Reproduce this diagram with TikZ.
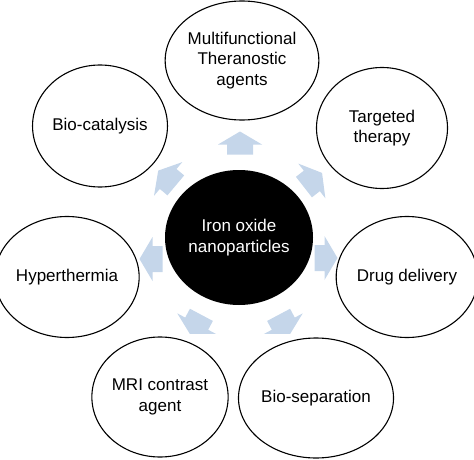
\documentclass[tikz,border=0pt]{standalone}
\usepackage{fontspec}
\setmainfont{Liberation Sans}
\usetikzlibrary{shapes.geometric}
\definecolor{arrowblue}{RGB}{197,214,234}
\tikzset{
  txt/.style={font=\fontsize{17}{20.5}\selectfont, align=center, inner sep=0pt},
  bubble/.style={txt, ellipse, draw=black, line width=1.1pt, fill=white},
  core/.style={txt, ellipse, fill=black, text=white},
  blockarrow/.style={fill=arrowblue}
}
\newcommand\blockarr[2]{%
  \fill[blockarrow, shift={(#1)}, rotate=#2]
    (-11.5,-13) -- (-1.5,-13) -- (-1.5,-22) -- (11.5,0) -- (-1.5,22) -- (-1.5,13) -- (-11.5,13) -- cycle;}
\begin{document}
\begin{tikzpicture}[x=1pt,y=1pt]
\useasboundingbox (0,0) rectangle (474,459);
\node[core, minimum width=148pt, minimum height=135pt] (c) at (239,221.5) {Iron oxide\\nanoparticles};
\node[bubble, minimum width=130pt, minimum height=119pt] (m) at (242,398.5) {Multifunctional\\Theranostic\\agents};
\node[bubble, minimum width=131pt, minimum height=121pt] (t) at (382,331) {Targeted\\therapy};
\node[bubble, minimum width=134pt, minimum height=122pt] (b) at (100,333) {Bio-catalysis};
\node[bubble, minimum width=129pt, minimum height=121pt] (h) at (67,182) {Hyperthermia};
\node[bubble, minimum width=130pt, minimum height=121pt] (d) at (407,182) {Drug delivery};
\node[bubble, minimum width=134pt, minimum height=120pt] (r) at (160,62) {MRI contrast\\agent};
\node[bubble, minimum width=132pt, minimum height=120pt] (s) at (316,61) {Bio-separation};
\blockarr{240,316}{90}
\blockarr{167,281}{140}
\blockarr{313,279}{38}
\blockarr{151,200}{180}
\blockarr{326,201}{0}
\begin{scope}
  \clip (0,126) rectangle (474,459);
  \blockarr{196,134}{-118}
  \blockarr{284,134}{-62}
\end{scope}
\end{tikzpicture}
\end{document}
